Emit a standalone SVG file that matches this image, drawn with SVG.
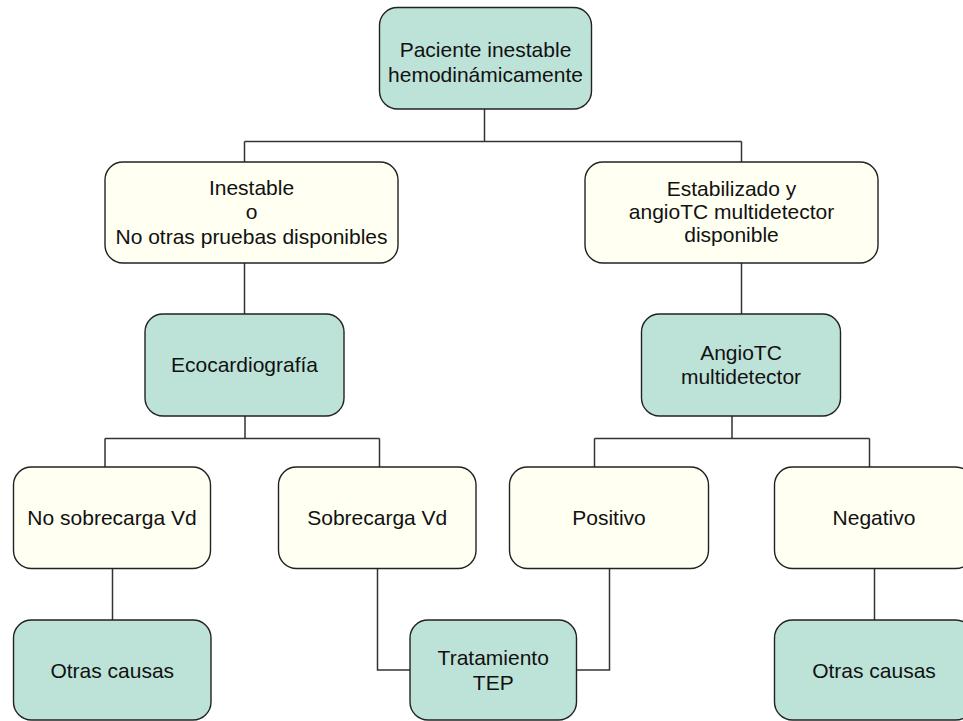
<svg xmlns="http://www.w3.org/2000/svg" width="963" height="721" viewBox="0 0 963 721">
<style>
.g{fill:#bde3d8;stroke:#222;stroke-width:1.4}
.c{fill:#fffff2;stroke:#222;stroke-width:1.4}
.t{font-family:"Liberation Sans",Arial,sans-serif;font-size:21px;fill:#111;text-anchor:middle}
.ln{fill:none;stroke:#333;stroke-width:1.5}
</style>
<rect width="963" height="721" fill="#fff"/>
<g id="connectors">
<path class="ln" d="M484.5 109V141.5M244.5 141.5H741.5M244.5 141.5V162M741.5 141.5V162"/>
<path class="ln" d="M244.5 263V314M741.5 263V314"/>
<path class="ln" d="M245 416V438.5M105 438.5H379.5M105 438.5V467M379.5 438.5V467"/>
<path class="ln" d="M732 416V438.5M594.5 438.5H869.5M594.5 438.5V467M869.5 438.5V467"/>
<path class="ln" d="M112.5 568.5V620M874.5 568.5V620"/>
<path class="ln" d="M377.5 568.5V670H410M609.5 568.5V670H576.5"/>
</g>
<g id="n1"><rect class="g" x="379.5" y="7.5" width="212" height="101.5" rx="18"/><text class="t" x="485.5" y="57">Paciente inestable</text><text class="t" x="485.5" y="82">hemodinámicamente</text></g>
<g id="n2"><rect class="c" x="105" y="162" width="293" height="101" rx="18"/><text class="t" x="251.5" y="195">Inestable</text><text class="t" x="251.5" y="219">o</text><text class="t" x="251.5" y="243.5">No otras pruebas disponibles</text></g>
<g id="n3"><rect class="c" x="585" y="162" width="293" height="101" rx="18"/><text class="t" x="731.5" y="195.5">Estabilizado y</text><text class="t" x="731.5" y="219">angioTC multidetector</text><text class="t" x="731.5" y="242">disponible</text></g>
<g id="n4"><rect class="g" x="145" y="314" width="199" height="102" rx="18"/><text class="t" x="244.5" y="372">Ecocardiografía</text></g>
<g id="n5"><rect class="g" x="641.5" y="314" width="199" height="102" rx="18"/><text class="t" x="741" y="359.5">AngioTC</text><text class="t" x="741" y="384">multidetector</text></g>
<g id="n6"><rect class="c" x="13.5" y="467" width="197" height="101.5" rx="18"/><text class="t" x="112" y="525">No sobrecarga Vd</text></g>
<g id="n7"><rect class="c" x="278.5" y="467" width="197.5" height="101.5" rx="18"/><text class="t" x="377.25" y="525">Sobrecarga Vd</text></g>
<g id="n8"><rect class="c" x="509.5" y="467" width="199" height="101.5" rx="18"/><text class="t" x="609" y="525">Positivo</text></g>
<g id="n9"><rect class="c" x="774.5" y="467" width="199" height="101.5" rx="18"/><text class="t" x="874" y="525">Negativo</text></g>
<g id="n10"><rect class="g" x="13.5" y="620" width="197.5" height="100" rx="18"/><text class="t" x="112.25" y="678">Otras causas</text></g>
<g id="n11"><rect class="g" x="410" y="620" width="166.5" height="100" rx="18"/><text class="t" x="493.25" y="665">Tratamiento</text><text class="t" x="493.25" y="690">TEP</text></g>
<g id="n12"><rect class="g" x="774.5" y="620" width="199" height="100" rx="18"/><text class="t" x="874" y="678">Otras causas</text></g>
</svg>
